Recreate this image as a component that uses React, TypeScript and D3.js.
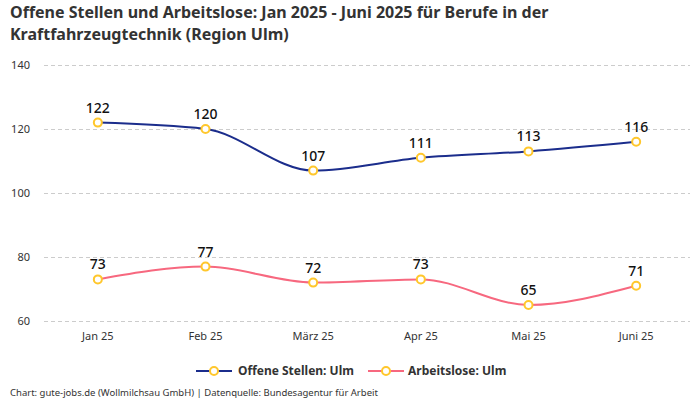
import { useRef, useEffect } from "react";
import * as d3 from "d3";

const months = ["Jan 25", "Feb 25", "März 25", "Apr 25", "Mai 25", "Juni 25"];
const offeneStellen = [122, 120, 107, 111, 113, 116];
const arbeitslose = [73, 77, 72, 73, 65, 71];
const yTicks = [60, 80, 100, 120, 140];
const titleLines = [
  "Offene Stellen und Arbeitslose: Jan 2025 - Juni 2025 für Berufe in der",
  "Kraftfahrzeugtechnik (Region Ulm)",
];

const seriesList = [
  { name: "Offene Stellen: Ulm", values: offeneStellen, color: "#1b2d8c" },
  { name: "Arbeitslose: Ulm", values: arbeitslose, color: "#f7687f" },
];

const FONT = "'Noto Sans', 'Open Sans', sans-serif";
const MARKER = "#ffc72c";

export default function App() {
  const svgRef = useRef<SVGSVGElement>(null);

  useEffect(() => {
    if (!svgRef.current) return;
    const width = 700;
    const height = 400;
    const svg = d3.select(svgRef.current);
    svg.selectAll("*").remove();
    svg.attr("width", width).attr("height", height).style("font-family", FONT);

    svg.append("rect").attr("width", width).attr("height", height).attr("fill", "#fff");

    // Title, one text per line
    svg.append("g")
      .selectAll("text")
      .data(titleLines)
      .join("text")
      .attr("x", 10)
      .attr("y", (_, i) => 18 + i * 22)
      .style("font-size", "16px")
      .style("font-weight", "bold")
      .style("fill", "#333")
      .text((d) => d);

    const x = d3.scalePoint<string>().domain(months).range([44, 690]).padding(0.5);
    const y = d3.scaleLinear().domain([60, 140]).range([321, 65]);

    // Grid
    svg.append("g")
      .selectAll("line")
      .data(yTicks)
      .join("line")
      .attr("x1", 44)
      .attr("x2", 690)
      .attr("y1", (d) => y(d) + 0.5)
      .attr("y2", (d) => y(d) + 0.5)
      .attr("stroke", "#ccc")
      .attr("stroke-dasharray", "4,3");

    // Y labels
    svg.append("g")
      .selectAll("text")
      .data(yTicks)
      .join("text")
      .attr("x", 30)
      .attr("y", (d) => y(d))
      .attr("dy", "0.35em")
      .attr("text-anchor", "end")
      .style("font-size", "11px")
      .style("fill", "#333")
      .text((d) => d);

    // X labels
    svg.append("g")
      .selectAll("text")
      .data(months)
      .join("text")
      .attr("x", (d) => x(d)!)
      .attr("y", 340)
      .attr("text-anchor", "middle")
      .style("font-size", "11px")
      .style("fill", "#333")
      .text((d) => d);

    const line = d3.line<number>()
      .x((_, i) => x(months[i])!)
      .y((d) => y(d))
      .curve(d3.curveMonotoneX);

    seriesList.forEach((s) => {
      svg.append("path")
        .datum(s.values)
        .attr("fill", "none")
        .attr("stroke", s.color)
        .attr("stroke-width", 2)
        .attr("d", line);

      svg.append("g")
        .selectAll("circle")
        .data(s.values)
        .join("circle")
        .attr("cx", (_, i) => x(months[i])!)
        .attr("cy", (d) => y(d))
        .attr("r", 4)
        .attr("fill", "#fff")
        .attr("stroke", MARKER)
        .attr("stroke-width", 2);

      svg.append("g")
        .selectAll("text")
        .data(s.values)
        .join("text")
        .attr("x", (_, i) => x(months[i])!)
        .attr("y", (d) => y(d) - 10)
        .attr("text-anchor", "middle")
        .style("font-size", "14px")
        .style("font-weight", "500")
        .style("fill", "#111")
        .text((d) => d);
    });

    // Legend
    const legendItems = [
      { ...seriesList[0], x0: 196, tx: 238 },
      { ...seriesList[1], x0: 368, tx: 408 },
    ];
    const lg = svg.append("g");
    legendItems.forEach((it) => {
      lg.append("line")
        .attr("x1", it.x0).attr("x2", it.x0 + 36)
        .attr("y1", 371).attr("y2", 371)
        .attr("stroke", it.color).attr("stroke-width", 2);
      lg.append("circle")
        .attr("cx", it.x0 + 18).attr("cy", 371).attr("r", 4)
        .attr("fill", "#fff").attr("stroke", MARKER).attr("stroke-width", 2);
      lg.append("text")
        .attr("x", it.tx).attr("y", 371).attr("dy", "0.35em")
        .style("font-size", "12px").style("font-weight", "bold").style("fill", "#333")
        .text(it.name);
    });

    // Footer
    svg.append("text")
      .attr("x", 10).attr("y", 396)
      .style("font-size", "9.5px").style("fill", "#333")
      .text("Chart: gute-jobs.de (Wollmilchsau GmbH) | Datenquelle: Bundesagentur für Arbeit");
  }, []);

  return <svg ref={svgRef} style={{ position: "absolute", left: 0, top: 0 }} />;
}
